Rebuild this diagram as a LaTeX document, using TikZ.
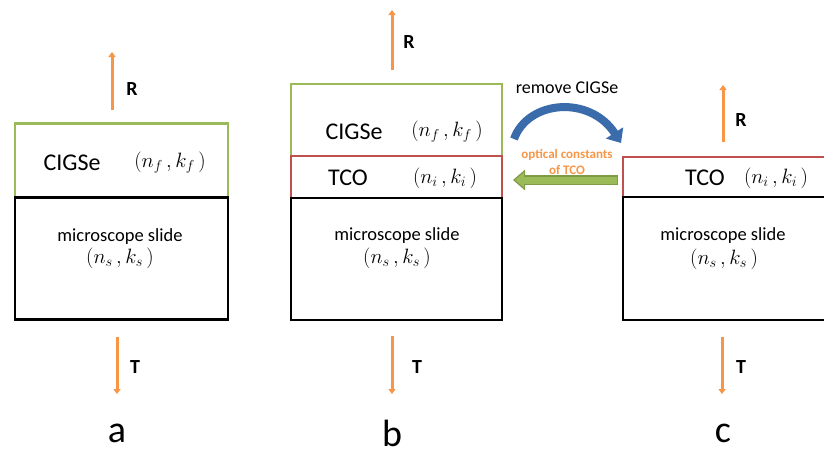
\documentclass[tikz,border=0pt]{standalone}
\usepackage{fontspec}
\setmainfont{Carlito}
\usetikzlibrary{arrows.meta}
\definecolor{cgreen}{HTML}{9BBB59}
\definecolor{cred}{HTML}{C0504D}
\definecolor{corange}{HTML}{F79646}
\definecolor{cblue}{HTML}{3A6BAA}
\definecolor{cdgreen}{HTML}{7E9A45}
\tikzset{
  layer/.style={draw, line width=2.4pt, inner sep=0pt, fill=white},
  lbl/.style={inner sep=0pt, anchor=center, font=\fontsize{24}{28}\selectfont},
  mth/.style={inner sep=0pt, anchor=center, font=\fontsize{20}{24}\selectfont},
  slide/.style={inner sep=0pt, anchor=center, font=\fontsize{18.5}{22}\selectfont},
  rt/.style={inner sep=0pt, anchor=center, font=\fontsize{20}{24}\selectfont\bfseries},
  panel/.style={inner sep=0pt, anchor=center, font=\fontsize{38}{42}\selectfont},
  ray/.style={draw=corange, line width=3pt, -{Triangle[width=7pt,length=5pt]}},
}
\begin{document}
\begin{tikzpicture}[x=1pt,y=-1pt]
\useasboundingbox (0,0) rectangle (824,456);
\clip (0,0) rectangle (824,456);
\fill[white] (0,0) rectangle (824,456);

% ---------- panel a ----------
\node[layer, draw=cgreen, minimum width=213pt, minimum height=74pt] (aF) at (121.5,160.5) {};
\node[layer, draw=black, minimum width=213pt, minimum height=122pt] (aS) at (121.5,258.5) {};
\node[lbl] (aFt) at (72,163) {CIGSe};
\node[mth] (aFm) at (170,163) {$(n_f\,,k_f\,)$};
\node[slide] (aSt) at (120,237) {microscope slide};
\node[mth] (aSm) at (120,258) {$(n_s\,,k_s\,)$};
\coordinate (aR1) at (112,110);
\coordinate (aR2) at (112,52);
\draw[ray] (aR1) -- (aR2);
\node[rt] (aR) at (132,89) {R};
\coordinate (aT1) at (117,337);
\coordinate (aT2) at (117,394);
\draw[ray] (aT1) -- (aT2);
\node[rt] (aT) at (135,367) {T};
\node[panel] (alab) at (117,433) {a};

% ---------- panel b ----------
\node[layer, draw=cgreen, minimum width=211pt, minimum height=72pt] (bF) at (396.5,120) {};
\node[layer, draw=cred, minimum width=211pt, minimum height=42pt] (bI) at (396.5,177) {};
\node[layer, draw=black, minimum width=211pt, minimum height=122pt] (bS) at (396.5,259) {};
\node[lbl] (bFt) at (354,132) {CIGSe};
\node[mth] (bFm) at (447,132) {$(n_f\,,k_f\,)$};
\node[lbl] (bIt) at (348,178) {TCO};
\node[mth] (bIm) at (445,178) {$(n_i\,,k_i\,)$};
\node[slide] (bSt) at (397,236) {microscope slide};
\node[mth] (bSm) at (397,258) {$(n_s\,,k_s\,)$};
\coordinate (bR1) at (392,70);
\coordinate (bR2) at (392,10);
\draw[ray] (bR1) -- (bR2);
\node[rt] (bR) at (409,42) {R};
\coordinate (bT1) at (392,336);
\coordinate (bT2) at (392,394);
\draw[ray] (bT1) -- (bT2);
\node[rt] (bT) at (417,367) {T};
\node[panel] (blab) at (392,433) {b};

% ---------- panel c ----------
\node[layer, draw=cred, minimum width=227pt, minimum height=40pt] (cI) at (736.5,177) {};
\node[layer, draw=black, minimum width=227pt, minimum height=123pt] (cS) at (736.5,258.5) {};
\node[lbl] (cIt) at (705,178) {TCO};
\node[mth] (cIm) at (776,178) {$(n_i\,,k_i\,)$};
\node[slide] (cSt) at (723,236) {microscope slide};
\node[mth] (cSm) at (724,259) {$(n_s\,,k_s\,)$};
\coordinate (cR1) at (723,142);
\coordinate (cR2) at (723,85);
\draw[ray] (cR1) -- (cR2);
\node[rt] (cR) at (741,120) {R};
\coordinate (cT1) at (722,337);
\coordinate (cT2) at (722,394);
\draw[ray] (cT1) -- (cT2);
\node[rt] (cT) at (741,367) {T};
\node[panel] (clab) at (723,433) {c};

% ---------- transfer arrows ----------
\node[inner sep=0pt, font=\fontsize{18}{22}\selectfont] (rem) at (567,88) {remove CIGSe};
\coordinate (u1) at (514,139);
\coordinate (u2) at (621,143);
\draw[cblue, line width=8pt, -{Triangle[width=20pt,length=12pt]}] (u1) .. controls (528,100) and (590,95) .. (u2);
\node[inner sep=0pt, text=corange, align=center, font=\fontsize{13}{16}\selectfont\bfseries] (oc) at (567,162) {optical constants\\of TCO};
\coordinate (g1) at (618,180);
\coordinate (g2) at (513,180);
\draw[cdgreen, line width=10pt, -{Triangle[width=20pt,length=12pt]}] (g1) -- (g2);
\draw[cgreen, line width=7pt, shorten >=2pt, -{Triangle[width=15pt,length=9pt]}] ([xshift=-1pt]g1) -- (g2);
\end{tikzpicture}
\end{document}
